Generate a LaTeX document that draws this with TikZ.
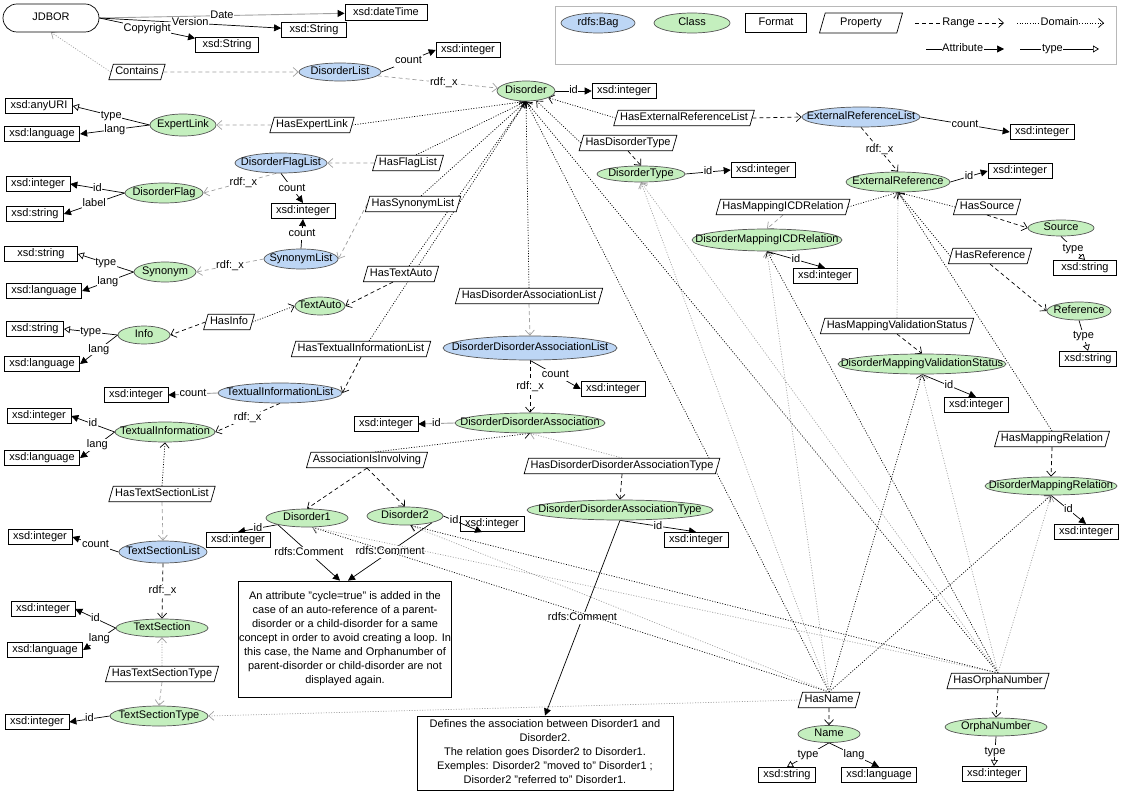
\documentclass[tikz,border=0pt]{standalone}
\usepackage{fontspec}
\setmainfont{Liberation Sans}
\usetikzlibrary{arrows.meta,shapes.geometric,backgrounds}

\definecolor{bagblue}{HTML}{BDD6F5}
\definecolor{clsgreen}{HTML}{C4EFBE}
\definecolor{rimgray}{HTML}{555555}
\definecolor{linegray}{HTML}{A0A0A0}
\definecolor{framegray}{HTML}{B8B8B8}

\tikzset{
  txt/.style={text height=8.2pt, text depth=2.4pt},
  % ellipse size is set by its own width and height; the label is centred in a zero-width box
  oval/.style 2 args={ellipse, draw=rimgray, line width=0.7pt, inner sep=0pt, txt,
    minimum width=#1, minimum height=#2,
    execute at begin node={\hbox to 0pt\bgroup\hss}, execute at end node={\hss\egroup}},
  bag/.style 2 args={oval={#1}{#2}, fill=bagblue},
  cls/.style 2 args={oval={#1}{#2}, fill=clsgreen},
  fmt/.style={rectangle, draw=black, fill=white, line width=0.8pt, inner xsep=5pt, inner ysep=2.4pt, txt},
  prop/.style={trapezium, trapezium left angle=74, trapezium right angle=106, draw=black, fill=white, line width=0.7pt, inner xsep=2pt, inner ysep=2.4pt, txt},
  note/.style={rectangle, draw=black, fill=white, line width=0.8pt, inner xsep=0pt, inner ysep=2pt},
  lbl/.style={fill=white, inner sep=0.6pt, txt},
  rng/.style={draw=black, line width=0.7pt, dash pattern=on 4pt off 3pt, -{Straight Barb[length=5pt,width=9pt]}},
  rngg/.style={rng, draw=linegray},
  dom/.style={draw=black, line width=0.7pt, dash pattern=on 1pt off 1.6pt, -{Straight Barb[length=5pt,width=9pt]}},
  domg/.style={dom, draw=linegray},
  att/.style={draw=black, line width=0.7pt, -{Triangle[length=7pt,width=7pt]}},
  attg/.style={draw=linegray, line width=0.9pt, -{Triangle[length=7pt,width=7pt,color=black]}},
  typ/.style={draw=black, line width=0.7pt, -{Triangle[open,length=6pt,width=7pt]}},
  cmt/.style={draw=black, line width=0.7pt, -{Triangle[length=7pt,width=7pt]}}
}

\begin{document}
\begin{tikzpicture}[x=1pt, y=-1pt, font=\fontsize{11}{14}\selectfont]
\useasboundingbox (0,0) rectangle (1123,794);

% ---------- legend ----------
\node[draw=framegray, line width=1pt, minimum width=561pt, minimum height=58pt, inner sep=0pt] (legend) at (835.5,36) {};
\node[bag={74}{20}] (lgBag) at (598,23) {rdfs:Bag};
\node[cls={76}{20}] (lgCls) at (692,23) {Class};
\node[fmt, minimum width=61pt, minimum height=19pt, inner xsep=0pt] (lgFmt) at (776,23) {Format};
\node[prop, inner xsep=15pt, inner ysep=4.7pt] (lgProp) at (861,23) {Property};
\coordinate (rngA) at (915,23);  \coordinate (rngB) at (1004,23);
\coordinate (domA) at (1017,23); \coordinate (domB) at (1104,23);
\coordinate (attA) at (926,49);  \coordinate (attB) at (1004,49);
\coordinate (typA) at (1020,49); \coordinate (typB) at (1099,49);

% ---------- root ----------
\node[draw, fill=white, rounded corners=14pt, minimum width=96pt, minimum height=28pt, line width=0.7pt, txt] (JDBOR) at (51,18) {JDBOR};
\node[fmt, minimum width=82pt] (dtDate) at (386,12.5) {xsd:dateTime};
\node[fmt, minimum width=65pt] (strVersion) at (314,30) {xsd:String};
\node[fmt, minimum width=63pt] (strCopyright) at (227,45) {xsd:String};
\node[prop] (Contains) at (137,72) {Contains};
\node[bag={82}{18}] (DisorderList) at (340,72) {DisorderList};
\node[fmt] (intDL) at (468,50) {xsd:integer};
\node[cls={58}{20}] (Disorder) at (526,91) {Disorder};
\node[fmt] (intD) at (624,91) {xsd:integer};

% ---------- expert links ----------
\node[cls={66}{22}] (ExpertLink) at (183,125) {ExpertLink};
\node[fmt] (uriEL) at (39,106) {xsd:anyURI};
\node[fmt] (langEL) at (42,134) {xsd:language};
\node[prop] (HasExpertLink) at (312,125) {HasExpertLink};

% ---------- flags ----------
\node[bag={92}{20}] (DisorderFlagList) at (281,163) {DisorderFlagList};
\node[prop] (HasFlagList) at (408,163) {HasFlagList};
\node[cls={78}{20}] (DisorderFlag) at (164,193) {DisorderFlag};
\node[fmt] (intDF) at (38,184) {xsd:integer};
\node[fmt] (strDF) at (35,214) {xsd:string};
\node[fmt] (intCount) at (303,211) {xsd:integer};

% ---------- synonyms ----------
\node[bag={74}{20}] (SynonymList) at (301,259) {SynonymList};
\node[prop] (HasSynonymList) at (413,204) {HasSynonymList};
\node[cls={62}{20}] (Synonym) at (165,272) {Synonym};
\node[fmt, minimum width=73pt] (strSyn) at (41,254) {xsd:string};
\node[fmt] (langSyn) at (44,291) {xsd:language};

% ---------- info / auto text ----------
\node[cls={52}{18}] (Info) at (144,335) {Info};
\node[fmt] (strInfo) at (35,329) {xsd:string};
\node[fmt] (langInfo) at (42,364) {xsd:language};
\node[prop] (HasInfo) at (229,322) {HasInfo};
\node[cls={50}{18}] (TextAuto) at (320,306) {TextAuto};
\node[prop] (HasTextAuto) at (401,274) {HasTextAuto};

% ---------- textual information ----------
\node[prop] (HasTextualInformationList) at (361,349) {HasTextualInformationList};
\node[bag={124}{20}] (TextualInformationList) at (280,393) {TextualInformationList};
\node[fmt] (intTIL) at (136,395) {xsd:integer};
\node[cls={100}{20}] (TextualInformation) at (165,432) {TextualInformation};
\node[fmt] (intTI) at (39,416) {xsd:integer};
\node[fmt] (langTI) at (42,458) {xsd:language};
\node[prop] (HasTextSectionList) at (162,494) {HasTextSectionList};
\node[bag={88}{22}] (TextSectionList) at (163,552) {TextSectionList};
\node[fmt] (intTSL) at (40,537) {xsd:integer};
\node[cls={92}{18}] (TextSection) at (162,628) {TextSection};
\node[fmt] (intTS) at (43,609) {xsd:integer};
\node[fmt] (langTS) at (45,650) {xsd:language};
\node[prop] (HasTextSectionType) at (162,674) {HasTextSectionType};
\node[cls={98}{20}] (TextSectionType) at (159,716) {TextSectionType};
\node[fmt] (intTST) at (37,722) {xsd:integer};

% ---------- disorder associations ----------
\node[prop] (HasDisorderAssociationList) at (529,296) {HasDisorderAssociationList};
\node[bag={174}{24}] (DisorderDisorderAssociationList) at (530,348) {DisorderDisorderAssociationList};
\node[fmt] (intDDAL) at (613,389) {xsd:integer};
\node[cls={150}{20}] (DisorderDisorderAssociation) at (530,423) {DisorderDisorderAssociation};
\node[fmt] (intDDA) at (386,424) {xsd:integer};
\node[prop] (AssociationIsInvolving) at (367,460) {AssociationIsInvolving};
\node[cls={82}{18}] (Disorder1) at (307,518) {Disorder1};
\node[cls={76}{18}] (Disorder2) at (405,516) {Disorder2};
\node[fmt] (intD1) at (238,540) {xsd:integer};
\node[fmt] (intD2) at (492,524) {xsd:integer};
\node[prop] (HasDisorderDisorderAssociationType) at (622,466) {HasDisorderDisorderAssociationType};
\node[cls={186}{20}] (DisorderDisorderAssociationType) at (620,510) {DisorderDisorderAssociationType};
\node[fmt] (intDDAT) at (696,540) {xsd:integer};

% ---------- comments ----------
\node[note, minimum width=213pt, minimum height=116pt] (cycleNote) at (345,639)
  {\begin{tabular}{@{}c@{}}
   An attribute "cycle=true" is added in the\\
   case of an auto-reference of a parent-\\
   disorder or a child-disorder for a same\\
   concept in order to avoid creating a loop. In\\
   this case, the Name and Orphanumber of\\
   parent-disorder or child-disorder are not\\
   displayed again.
   \end{tabular}};
\node[note, minimum width=256pt, minimum height=74pt] (assocNote) at (545,753)
  {\begin{tabular}{@{}c@{}}
   Defines the association between Disorder1 and\\
   Disorder2.\\
   The relation goes Disorder2 to Disorder1.\\
   Exemples: Disorder2 "moved to" Disorder1 ;\\
   Disorder2 "referred to" Disorder1.
   \end{tabular}};

% ---------- external references ----------
\node[prop] (HasExternalReferenceList) at (684,118) {HasExternalReferenceList};
\node[bag={118}{20}] (ExternalReferenceList) at (861,117) {ExternalReferenceList};
\node[fmt] (intERL) at (1042,132) {xsd:integer};
\node[cls={104}{20}] (ExternalReference) at (898,182) {ExternalReference};
\node[fmt] (intER) at (1020,171) {xsd:integer};
\node[prop] (HasSource) at (987,207) {HasSource};
\node[cls={66}{16}] (Source) at (1061,228) {Source};
\node[fmt, minimum width=63pt] (strSrc) at (1085,268) {xsd:string};
\node[prop] (HasReference) at (990,256) {HasReference};
\node[cls={64}{18}] (Reference) at (1079,311) {Reference};
\node[fmt] (strRef) at (1088,359) {xsd:string};

% ---------- types and mappings ----------
\node[prop] (HasDisorderType) at (628,143) {HasDisorderType};
\node[cls={88}{16}] (DisorderType) at (641,174) {DisorderType};
\node[fmt] (intDT) at (763,170) {xsd:integer};
\node[prop] (HasMappingICDRelation) at (783,207) {HasMappingICDRelation};
\node[cls={150}{22}] (DisorderMappingICDRelation) at (767,240) {DisorderMappingICDRelation};
\node[fmt] (intMICD) at (825,276) {xsd:integer};
\node[prop] (HasMappingValidationStatus) at (897,326) {HasMappingValidationStatus};
\node[cls={168}{20}] (DisorderMappingValidationStatus) at (922,364) {DisorderMappingValidationStatus};
\node[fmt] (intMVS) at (976,405) {xsd:integer};
\node[prop] (HasMappingRelation) at (1052,439) {HasMappingRelation};
\node[cls={132}{18}] (DisorderMappingRelation) at (1051,486) {DisorderMappingRelation};
\node[fmt] (intMR) at (1086,532) {xsd:integer};

% ---------- name and orphanumber ----------
\node[prop] (HasName) at (829,700) {HasName};
\node[cls={62}{17}] (Name) at (829,734) {Name};
\node[fmt] (strName) at (787,775) {xsd:string};
\node[fmt] (langName) at (879,775) {xsd:language};
\node[prop] (HasOrphaNumber) at (998,681) {HasOrphaNumber};
\node[cls={102}{18}] (OrphaNumber) at (996,727) {OrphaNumber};
\node[fmt] (intON) at (994,774) {xsd:integer};

% attribute edge that runs into its own target box
\draw[att] (Disorder2.east) -- node[lbl,pos=0.28]{id} ([xshift=-10pt]intD2.south);

\begin{scope}[on background layer]
\fill[white] (0,0) rectangle (1123,794);

% legend samples
\draw[rng] (rngA) -- node[lbl,pos=0.49]{Range} (rngB);
\draw[dom] (domA) -- node[lbl,pos=0.49]{Domain} (domB);
\draw[att] (attA) -- node[lbl,pos=0.47]{Attribute} (attB);
\draw[typ] (typA) -- node[lbl,pos=0.41]{type} (typB);

% root
\draw[attg] (JDBOR.east) -- node[lbl]{Date} (dtDate);
\draw[att] (JDBOR.east) -- node[lbl]{Version} (strVersion);
\draw[att] (JDBOR.east) -- node[lbl]{Copyright} (strCopyright);
\draw[domg] (Contains.west) -- (JDBOR.south);
\draw[rngg] (Contains.east) -- (DisorderList.west);
\draw[att] (DisorderList.east) -- node[lbl]{count} (intDL.west);
\draw[rngg] (DisorderList) -- node[lbl,pos=0.55]{rdf:\_x} (Disorder);
\draw[att] (Disorder) -- node[lbl]{id} (intD);

% expert links
\draw[rngg] (HasExpertLink) -- (ExpertLink);
\draw[dom] (HasExpertLink.east) -- (Disorder.south);
\draw[typ] (ExpertLink.west) -- node[lbl]{type} (uriEL.east);
\draw[att] (ExpertLink.west) -- node[lbl]{lang} (langEL.east);

% flags
\draw[rngg] (HasFlagList) -- (DisorderFlagList);
\draw[dom] (HasFlagList.north east) -- (Disorder.south);
\draw[rngg] (DisorderFlagList.-115) -- node[lbl,pos=0.45]{rdf:\_x} (DisorderFlag.east);
\draw[att] (DisorderFlagList.south) -- node[lbl]{count} (intCount.north);
\draw[att] (DisorderFlag.west) -- node[lbl]{id} (intDF.east);
\draw[att] (DisorderFlag.west) -- node[lbl]{label} (strDF.east);

% synonyms
\draw[rngg] (HasSynonymList.west) -- (SynonymList.east);
\draw[dom] (HasSynonymList.north east) -- (Disorder.south);
\draw[att] (SynonymList.north) -- node[lbl]{count} (intCount.south);
\draw[rngg] (SynonymList.west) -- node[lbl]{rdf:\_x} (Synonym.east);
\draw[typ] (Synonym.west) -- node[lbl]{type} (strSyn.east);
\draw[att] (Synonym.west) -- node[lbl]{lang} (langSyn.east);

% info and auto text
\draw[rng] (HasInfo.west) -- (Info.east);
\draw[dom] (HasInfo.east) -- (TextAuto.west);
\draw[typ] (Info.west) -- node[lbl]{type} (strInfo.east);
\draw[att] (Info.west) -- node[lbl]{lang} (langInfo.east);
\draw[rng] (HasTextAuto.south west) -- (TextAuto.east);
\draw[dom] (HasTextAuto.north east) -- (Disorder.south);

% textual information
\draw[rng] (HasTextualInformationList.south) -- (TextualInformationList.east);
\draw[dom] (HasTextualInformationList.north east) -- (Disorder.south);
\draw[attg] (TextualInformationList.west) -- node[lbl]{count} (intTIL.east);
\draw[rng] (TextualInformationList.south) -- node[lbl]{rdf:\_x} (TextualInformation.east);
\draw[att] (TextualInformation.west) -- node[lbl]{id} (intTI.east);
\draw[att] (TextualInformation.west) -- node[lbl]{lang} (langTI.east);
\draw[dom] (HasTextSectionList.north) -- (TextualInformation.south);
\draw[rngg] (HasTextSectionList.south) -- (TextSectionList.north);
\draw[att] (TextSectionList.west) -- node[lbl]{count} (intTSL.east);
\draw[rng] (TextSectionList.south) -- node[lbl]{rdf:\_x} (TextSection.north);
\draw[att] (TextSection.west) -- node[lbl]{id} (intTS.east);
\draw[att] (TextSection.west) -- node[lbl]{lang} (langTS.east);
\draw[domg] (HasTextSectionType.north) -- (TextSection.south);
\draw[rngg] (HasTextSectionType.south) -- (TextSectionType.north);
\draw[att] (TextSectionType.west) -- node[lbl]{id} (intTST.east);
\draw[domg] (HasName.west) -- (TextSectionType.east);

% disorder associations
\draw[dom] (HasDisorderAssociationList.north) -- (Disorder.south);
\draw[rngg] (HasDisorderAssociationList.south) -- (DisorderDisorderAssociationList.north);
\draw[att] (DisorderDisorderAssociationList.south) -- node[lbl]{count} (intDDAL.west);
\draw[rng] (DisorderDisorderAssociationList.south) -- node[lbl]{rdf:\_x} (DisorderDisorderAssociation.north);
\draw[attg] (DisorderDisorderAssociation.west) -- node[lbl]{id} (intDDA.east);
\draw[dom] (AssociationIsInvolving.north east) -- (DisorderDisorderAssociation.south);
\draw[rng] (AssociationIsInvolving.south) -- (Disorder1.north);
\draw[rng] (AssociationIsInvolving.south) -- (Disorder2.north);
\draw[domg] (HasDisorderDisorderAssociationType.north) -- (DisorderDisorderAssociation.south);
\draw[rng] (HasDisorderDisorderAssociationType.south) -- (DisorderDisorderAssociationType.north);
\draw[att] (DisorderDisorderAssociationType.south) -- node[lbl]{id} (intDDAT.north);
\draw[att] (Disorder1.south west) -- node[lbl]{id} (intD1.north);
\draw[cmt] (Disorder1.south west) -- node[lbl]{rdfs:Comment} ([xshift=-5pt]cycleNote.north);
\draw[cmt] (Disorder2.south east) -- node[lbl]{rdfs:Comment} ([xshift=3pt]cycleNote.north);
\draw[cmt] (DisorderDisorderAssociationType.south) -- node[lbl]{rdfs:Comment} (assocNote.north);

% external references
\draw[dom] (HasExternalReferenceList.west) -- (Disorder);
\draw[rng] (HasExternalReferenceList.east) -- (ExternalReferenceList.west);
\draw[att] (ExternalReferenceList.east) -- node[lbl]{count} (intERL.west);
\draw[rng] (ExternalReferenceList.south) -- node[lbl]{rdf:\_x} (ExternalReference.north);
\draw[att] (ExternalReference.east) -- node[lbl]{id} (intER.west);
\draw[dom] (HasSource.west) -- (ExternalReference.south);
\draw[rng] (HasSource.south) -- (Source.west);
\draw[typ] (Source.south) -- node[lbl]{type} (strSrc.north);
\draw[dom] (HasReference.west) -- (ExternalReference.south);
\draw[rng] (HasReference.south) -- (Reference.west);
\draw[typ] (Reference.south) -- node[lbl]{type} (strRef.north);

% types and mappings
\draw[rng] (HasDisorderType.south) -- (DisorderType.north);
\draw[dom] (HasDisorderType.west) -- (Disorder);
\draw[att] (DisorderType.east) -- node[lbl]{id} (intDT.west);
\draw[rngg] (HasMappingICDRelation.south) -- (DisorderMappingICDRelation.north);
\draw[dom] (HasMappingICDRelation.east) -- (ExternalReference.south);
\draw[att] (DisorderMappingICDRelation.south) -- node[lbl]{id} (intMICD.north);
\draw[rng] (HasMappingValidationStatus.south) -- (DisorderMappingValidationStatus.north);
\draw[domg] (HasMappingValidationStatus.north) -- (ExternalReference.south);
\draw[att] (DisorderMappingValidationStatus.south) -- node[lbl]{id} (intMVS.north);
\draw[rng] (HasMappingRelation.south) -- (DisorderMappingRelation.north);
\draw[dom] (HasMappingRelation.north) -- (ExternalReference.south);
\draw[att] (DisorderMappingRelation.south) -- node[lbl]{id} (intMR.north);

% name and orphanumber
\draw[rng] (HasName.south) -- (Name.north);
\draw[typ] (Name.south) -- node[lbl]{type} (strName.north);
\draw[att] (Name.south) -- node[lbl]{lang} (langName.north);
\draw[rng] (HasOrphaNumber.south) -- (OrphaNumber.north);
\draw[typ] (OrphaNumber.south) -- node[lbl]{type} (intON.north);

% domains of HasName
\draw[dom]  (HasName.north) -- (Disorder.south);
\draw[domg] (HasName.north) -- (DisorderType.south);
\draw[domg] (HasName.north) -- (DisorderMappingICDRelation.south);
\draw[dom]  (HasName.north) -- (DisorderMappingValidationStatus.south);
\draw[dom]  (HasName.north) -- (DisorderMappingRelation.south);
\draw[dom]  (HasName.north) -- (Disorder1.-60);
\draw[domg] (HasName.north) -- (Disorder2.-60);

% domains of HasOrphaNumber
\draw[dom]  (HasOrphaNumber.north) -- (Disorder.south);
\draw[domg] (HasOrphaNumber.north) -- (DisorderType.south);
\draw[dom]  (HasOrphaNumber.north) -- (DisorderMappingICDRelation.south);
\draw[domg] (HasOrphaNumber.north) -- (DisorderMappingValidationStatus.south);
\draw[domg] (HasOrphaNumber.north) -- (DisorderMappingRelation.south);
\draw[domg] (HasOrphaNumber.north) -- (Disorder1.-60);
\draw[dom]  (HasOrphaNumber.north) -- (Disorder2.-60);
\end{scope}
\end{tikzpicture}
\end{document}
